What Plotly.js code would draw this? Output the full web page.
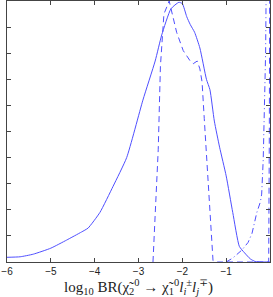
<!DOCTYPE html>
<html>
<head>
<meta charset="utf-8">
<script src="https://cdn.plot.ly/plotly-3.0.1.min.js"></script>
<style>html,body{margin:0;padding:0;background:#fff;}</style>
</head>
<body>
<div id="chart" style="width:273px;height:297px;"></div>
<script>
const solidX = [-6, -5.7, -5.4, -5.0, -4.64, -4.3, -4.15, -3.88, -3.58, -3.27, -2.9, -2.62, -2.47, -2.26, -2.08, -2.0, -1.9, -1.82, -1.72, -1.6, -1.45, -1.37, -1.27, -1.15, -1.0, -0.85, -0.7, -0.58, -0.45, -0.34, 0];
const solidY = [0.018, 0.02, 0.03, 0.053, 0.084, 0.115, 0.13, 0.19, 0.29, 0.40, 0.62, 0.77, 0.87, 0.97, 0.995, 0.99, 0.94, 0.91, 0.88, 0.82, 0.70, 0.66, 0.54, 0.44, 0.33, 0.19, 0.06, 0.035, 0.012, 0.002, 0];

const dashX = [-2.67, -2.62, -2.55, -2.5, -2.46, -2.42, -2.3, -2.21, -2.13, -1.98, -1.82, -1.75, -1.66, -1.6, -1.55, -1.5, -1.46, -1.41, -1.35, -1.3, -1.2, -0.03, -0.015, -0.005];
const dashY = [0, 0.2, 0.43, 0.75, 0.87, 0.95, 1.0, 0.93, 0.88, 0.81, 0.77, 0.76, 0.77, 0.74, 0.69, 0.55, 0.44, 0.30, 0.11, 0.005, 0, 0, 0.5, 1.2];

const dashDotX = [-1.0, -0.85, -0.64, -0.5, -0.41, -0.3, -0.22, -0.19, -0.155, -0.14, -0.115, -0.1, -0.09, -0.08];
const dashDotY = [0, 0.015, 0.046, 0.075, 0.11, 0.19, 0.23, 0.26, 0.39, 0.49, 0.61, 0.8, 1.0, 1.3];

const xTicks = [-6, -5, -4, -3, -2, -1, 0];
const xTickLabels = ["\u22126", "\u22125", "\u22124", "\u22123", "\u22122", "\u22121", "0"];
const yTicks = [0, 0.1, 0.2, 0.3, 0.4, 0.5, 0.6, 0.7, 0.8, 0.9, 1.0];

const lineColor = '#4f4fff';
const traces = [
  {x: solidX, y: solidY, mode: 'lines', line: {color: lineColor, width: 1, dash: 'solid', shape: 'spline', smoothing: 0.5}},
  {x: dashX, y: dashY, mode: 'lines', line: {color: lineColor, width: 1, dash: '6px,4px'}},
  {x: dashDotX, y: dashDotY, mode: 'lines', line: {color: lineColor, width: 1, dash: '6px,3px,1px,3px'}}
];

const axisCommon = {
  showgrid: false, zeroline: false, showline: true, mirror: 'ticks',
  linecolor: '#444', linewidth: 1, ticks: 'inside', ticklen: 4, tickcolor: '#444'
};

const layout = {
  width: 273, height: 297,
  margin: {l: 7, r: 3, t: 1, b: 35},
  paper_bgcolor: '#fff', plot_bgcolor: '#fff',
  showlegend: false,
  xaxis: Object.assign({}, axisCommon, {
    range: [-6, 0], tickvals: xTicks, ticktext: xTickLabels,
    tickfont: {family: 'Liberation Sans, Arial, sans-serif', size: 10, color: '#222'},
    title: {
      text: 'log<sub>10</sub> BR(\u03c7\u0303<sub>2</sub><sup>0</sup> \u2192 \u03c7\u0303<sub>1</sub><sup>0</sup><i>l</i><sub><i>i</i></sub><sup>\u00b1</sup><i>l</i><sub><i>j</i></sub><sup>\u2213</sup>)',
      font: {family: 'Liberation Serif, DejaVu Serif, serif', size: 15, color: '#222'},
      standoff: 2
    }
  }),
  yaxis: Object.assign({}, axisCommon, {
    range: [0, 1], tickvals: yTicks, showticklabels: false
  })
};

Plotly.newPlot('chart', traces, layout, {displayModeBar: false, staticPlot: true});
</script>
</body>
</html>
